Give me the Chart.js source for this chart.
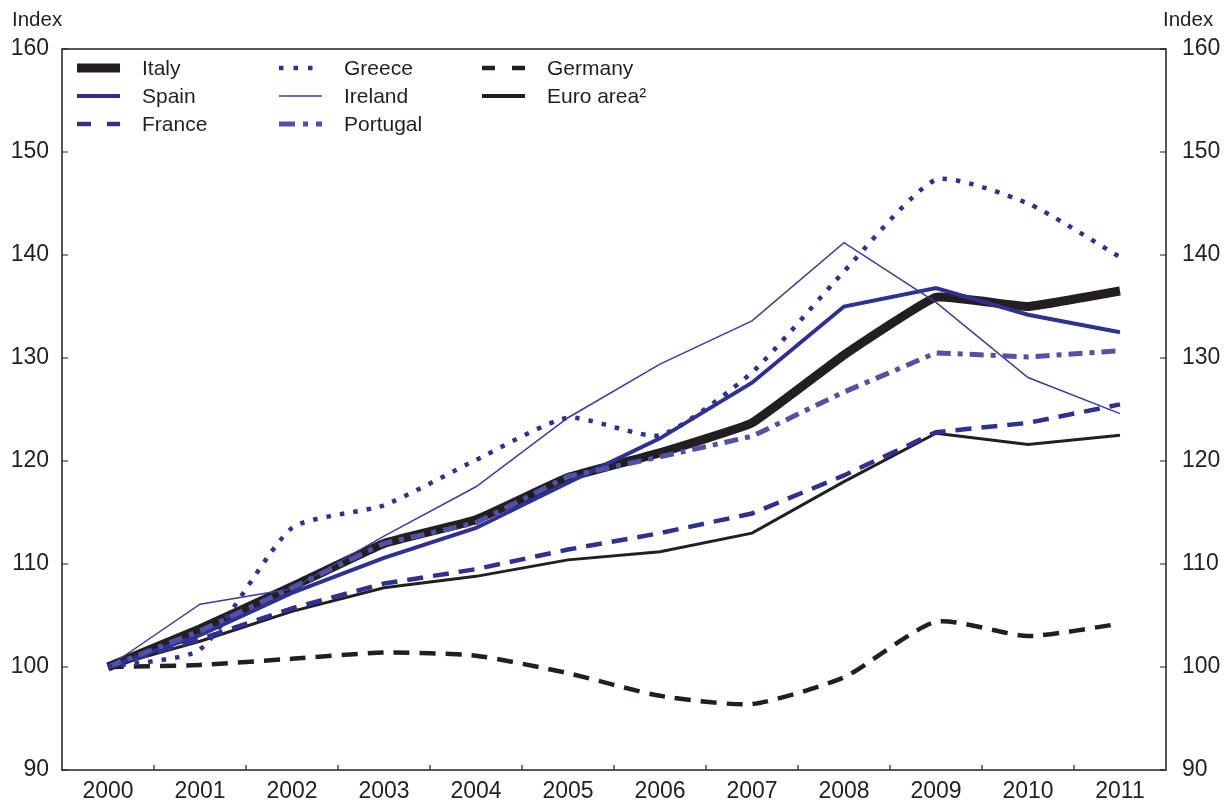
<!DOCTYPE html>
<html>
<head>
<meta charset="utf-8">
<script src="https://cdn.jsdelivr.net/npm/chart.js@4"></script>
<style>
  html, body { margin: 0; padding: 0; background: #fff; }
  #wrap { width: 1231px; height: 805px; }
</style>
</head>
<body>
<div id="wrap"><canvas id="cv_index"></canvas></div>
<script>
const years = ['2000', '2001', '2002', '2003', '2004', '2005', '2006', '2007', '2008', '2009', '2010', '2011'];
const yTicks = [90, 100, 110, 120, 130, 140, 150, 160];

const italy    = [100, 103.7, 107.8, 112.0, 114.3, 118.4, 120.8, 123.7, 130.3, 135.9, 135.0, 136.5];
const spain    = [100, 103.1, 107.2, 110.6, 113.5, 117.9, 122.2, 127.6, 135.0, 136.8, 134.2, 132.5];
const france   = [100, 102.7, 105.7, 108.1, 109.5, 111.4, 113.0, 114.9, 118.6, 122.8, 123.7, 125.5];
const greece   = [100, 101.7, 113.5, 115.7, 120.1, 124.2, 122.5, 128.6, 138.4, 147.3, 145.0, 139.8];
const ireland  = [100, 106.1, 107.6, 112.7, 117.5, 124.2, 129.4, 133.6, 141.2, 135.4, 128.1, 124.6];
const portugal = [100, 103.5, 107.7, 112.0, 114.0, 118.5, 120.4, 122.4, 126.7, 130.5, 130.1, 130.7];
const germany  = [100, 100.2, 100.8, 101.4, 101.1, 99.4, 97.2, 96.4, 99.0, 104.4, 103.0, 104.2];
const euroArea = [100, 102.5, 105.4, 107.7, 108.8, 110.4, 111.2, 113.0, 118.0, 122.7, 121.6, 122.5];

const INK = '#231f20';
const BLUE = '#2e3192';
const FONT = '"Liberation Sans", Arial, Helvetica, sans-serif';

// legend: column-major, with its own swatch dashes
const legendItems = [
  { label: 'Italy',     col: 0, row: 0, color: INK,       width: 9,   dash: [] },
  { label: 'Spain',     col: 0, row: 1, color: BLUE,      width: 4,   dash: [] },
  { label: 'France',    col: 0, row: 2, color: BLUE,      width: 4.5, dash: [14, 16] },
  { label: 'Greece',    col: 1, row: 0, color: BLUE,      width: 4.5, dash: [4.5, 10] },
  { label: 'Ireland',   col: 1, row: 1, color: '#3c3ca0', width: 1.5, dash: [] },
  { label: 'Portugal',  col: 1, row: 2, color: '#5052a8', width: 5,   dash: [16, 8, 5, 8] },
  { label: 'Germany',   col: 2, row: 0, color: INK,       width: 4.5, dash: [13, 17] },
  { label: 'Euro area²', col: 2, row: 1, color: INK,      width: 4,   dash: [] }
];

const frameAndTicks = {
  id: 'frameAndTicks',
  afterDatasetsDraw(chart) {
    const { ctx, chartArea: a } = chart;
    const xs = chart.scales.x, ys = chart.scales.y;
    ctx.save();
    ctx.strokeStyle = INK;
    ctx.lineWidth = 1.5;
    ctx.setLineDash([]);
    ctx.strokeRect(a.left, a.top, a.right - a.left, a.bottom - a.top);
    ctx.lineWidth = 1.2;
    ctx.beginPath();
    for (let i = 0; i < years.length - 1; i++) {
      const px = (xs.getPixelForValue(i) + xs.getPixelForValue(i + 1)) / 2;
      ctx.moveTo(px, a.bottom);
      ctx.lineTo(px, a.bottom - 5);
    }
    yTicks.forEach(v => {
      const py = ys.getPixelForValue(v);
      ctx.moveTo(a.left, py);
      ctx.lineTo(a.left + 6, py);
      ctx.moveTo(a.right, py);
      ctx.lineTo(a.right - 6, py);
    });
    ctx.stroke();

    // axis units
    ctx.fillStyle = INK;
    ctx.font = '20.5px ' + FONT;
    ctx.textBaseline = 'middle';
    ctx.textAlign = 'left';
    ctx.fillText('Index', 12, 20);
    ctx.fillText('Index', 1163, 20);

    // legend
    const colX = [77, 279, 482];
    const rowY = [68, 96, 124];
    ctx.font = '21px ' + FONT;
    legendItems.forEach(it => {
      const x0 = colX[it.col], y0 = rowY[it.row];
      ctx.strokeStyle = it.color;
      ctx.lineWidth = it.width;
      ctx.lineCap = 'butt';
      ctx.setLineDash(it.dash);
      ctx.beginPath();
      ctx.moveTo(x0, y0);
      ctx.lineTo(x0 + 43, y0);
      ctx.stroke();
      ctx.setLineDash([]);
      ctx.fillStyle = INK;
      ctx.fillText(it.label, x0 + 65, y0 + 1);
    });
    ctx.restore();
  }
};

const line = (label, data, color, width, dash, order, tension) => ({
  label: label,
  data: data,
  borderColor: color,
  backgroundColor: color,
  borderWidth: width,
  borderDash: dash,
  borderCapStyle: 'butt',
  pointRadius: 0,
  tension: tension || 0,
  order: order,
  yAxisID: 'y'
});

new Chart(document.getElementById('cv_index').getContext('2d'), {
  type: 'line',
  data: {
    labels: years,
    datasets: [
      line('Italy', italy, INK, 9, [], 8, 0.1),
      line('Euro area²', euroArea, INK, 3, [], 7),
      line('Germany', germany, INK, 4.5, [16, 10], 6, 0.2),
      line('Spain', spain, BLUE, 4, [], 5),
      line('Ireland', ireland, '#3c3ca0', 1.5, [], 4),
      line('France', france, BLUE, 4.5, [16, 10], 3),
      line('Portugal', portugal, '#5052a8', 5, [14, 7, 5, 7], 2),
      line('Greece', greece, BLUE, 4.5, [4.5, 9], 1, 0.2)
    ]
  },
  options: {
    responsive: true,
    maintainAspectRatio: false,
    animation: false,
    layout: { padding: { top: 49, left: 0, right: 0, bottom: 0 } },
    plugins: {
      legend: { display: false },
      tooltip: { enabled: false }
    },
    scales: {
      x: {
        type: 'category',
        offset: true,
        grid: { display: false },
        border: { display: false },
        ticks: {
          color: INK,
          font: { family: FONT, size: 23 },
          padding: 0,
          maxRotation: 0,
          autoSkip: false
        },
        afterFit(scale) { scale.height = 35; }
      },
      y: {
        position: 'left',
        min: 90,
        max: 160,
        grid: { display: false },
        border: { display: false },
        ticks: {
          stepSize: 10,
          color: INK,
          font: { family: FONT, size: 23 },
          padding: 5
        },
        afterFit(scale) { scale.width = 62; }
      },
      y2: {
        position: 'right',
        min: 90,
        max: 160,
        grid: { display: false },
        border: { display: false },
        ticks: {
          stepSize: 10,
          color: INK,
          font: { family: FONT, size: 23 },
          padding: 8
        },
        afterFit(scale) { scale.width = 65; }
      }
    }
  },
  plugins: [frameAndTicks]
});
</script>
</body>
</html>
